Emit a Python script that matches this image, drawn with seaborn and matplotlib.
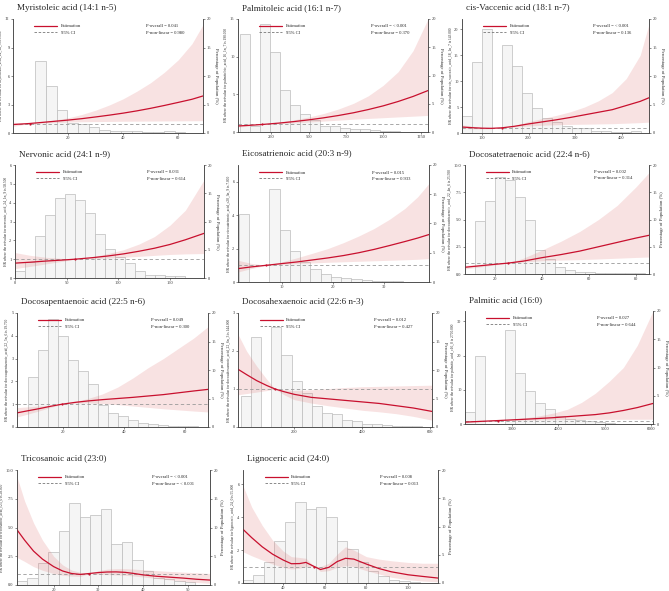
import numpy as np
import pandas as pd
import matplotlib
matplotlib.use("Agg")
import matplotlib.pyplot as plt
from matplotlib.lines import Line2D
from matplotlib.ticker import FormatStrFormatter
import seaborn as sns

# ---- Style
sns.set_style("ticks")
plt.rcParams["font.family"] = ["Liberation Serif", "DejaVu Serif"]
RED = "#c8102e"
BAND = "#e27b7b"
BAR_FACE = "#f5f5f5"
BAR_EDGE = "#bcbcbc"
REF_GREY = "#9a9a9a"
W, H = 669, 591

# ---- Data
# Myristoleic acid (14:1 n-5)
myr_bin_start, myr_bin_width = 8.0, 3.9
myr_pct = [12.7, 8.3, 4.0, 1.8, 1.6, 1.0, 0.5, 0.4, 0.4, 0.3, 0.2, 0.1, 0.3, 0.1]
myr_x = [0, 6, 10, 15, 20, 25, 30, 35, 40, 45, 50, 55, 60, 65, 69]
myr_hr = [0.89, 1.0, 1.1, 1.23, 1.36, 1.51, 1.69, 1.88, 2.09, 2.33, 2.6, 2.9, 3.22, 3.55, 3.9]
myr_lo = [0.7, 1.0, 1.05, 1.1, 1.15, 1.18, 1.2, 1.22, 1.24, 1.25, 1.26, 1.27, 1.28, 1.29, 1.3]
myr_hi = [1.13, 1.0, 1.15, 1.35, 1.6, 1.95, 2.4, 2.95, 3.6, 4.4, 5.3, 6.4, 7.7, 9.4, 11.4]
myr_ref = 6.0

# Palmitoleic acid (16:1 n-7)
pol_bin_start, pol_bin_width = 38.0, 67.0
pol_pct = [17.3, 1.0, 19.1, 14.1, 7.5, 4.8, 3.2, 2.1, 1.1, 1.1, 0.7, 0.5, 0.5, 0.4, 0.2, 0.1]
pol_x = [27, 100, 190, 300, 400, 500, 600, 700, 800, 900, 1000, 1100, 1200, 1300]
pol_hr = [0.8, 0.88, 1.0, 1.18, 1.38, 1.61, 1.88, 2.19, 2.55, 2.98, 3.47, 4.05, 4.72, 5.5]
pol_lo = [0.65, 0.8, 1.0, 1.1, 1.2, 1.32, 1.45, 1.57, 1.7, 1.8, 1.9, 2.0, 2.1, 2.2]
pol_hi = [0.98, 0.97, 1.0, 1.27, 1.6, 1.98, 2.45, 3.05, 3.8, 4.8, 6.2, 8.0, 10.8, 15.0]
pol_ref = 190

# cis-Vaccenic acid (18:1 n-7)
vac_bin_start, vac_bin_width = 57.0, 21.4
vac_pct = [3.0, 12.4, 18.3, 0.0, 15.4, 11.7, 7.0, 4.4, 2.6, 1.9, 1.3, 0.8, 0.9, 0.3, 0.3, 0.2, 0.1, 0.3]
vac_x = [57, 80, 100, 120, 143, 170, 200, 230, 260, 290, 320, 350, 380, 410, 440, 459]
vac_hr = [1.15, 1.02, 0.93, 0.9, 1.0, 1.3, 1.75, 2.15, 2.55, 3.0, 3.5, 4.0, 4.5, 5.3, 6.1, 6.8]
vac_lo = [0.85, 0.82, 0.8, 0.82, 1.0, 1.15, 1.35, 1.5, 1.6, 1.65, 1.7, 1.75, 1.8, 1.9, 2.0, 2.1]
vac_hi = [1.55, 1.3, 1.1, 1.0, 1.0, 1.45, 2.2, 2.8, 3.4, 4.1, 5.0, 6.2, 7.8, 10.5, 15.0, 21.0]
vac_ref = 143

# Nervonic acid (24:1 n-9)
ner_bin_start, ner_bin_width = 0.0, 9.7
ner_pct = [1.2, 2.9, 7.5, 11.2, 14.1, 14.9, 13.8, 11.5, 7.8, 5.1, 3.7, 2.6, 1.3, 0.6, 0.5, 0.3, 0.35]
ner_x = [0, 15, 30, 45, 58.5, 75, 90, 105, 120, 135, 150, 165, 183]
ner_hr = [0.79, 0.84, 0.9, 0.95, 1.0, 1.08, 1.17, 1.28, 1.42, 1.58, 1.78, 2.03, 2.37]
ner_lo = [0.5, 0.62, 0.75, 0.88, 1.0, 1.03, 1.06, 1.1, 1.15, 1.2, 1.25, 1.28, 1.3]
ner_hi = [1.35, 1.2, 1.1, 1.04, 1.0, 1.12, 1.3, 1.5, 1.8, 2.2, 2.8, 3.6, 5.2]
ner_ref = 58.5

# Eicosatrienoic acid (20:3 n-9)
eic_bin_start, eic_bin_width = 1.6, 2.0
eic_pct = [11.6, 0.0, 0.0, 15.9, 8.9, 5.3, 3.4, 2.2, 1.3, 0.9, 0.6, 0.5, 0.4, 0.2, 0.1, 0.1]
eic_x = [1.5, 4, 7, 10, 13, 16, 19, 22, 25, 28, 31, 34, 36.5, 38.7]
eic_hr = [0.8, 0.9, 1.0, 1.1, 1.2, 1.32, 1.44, 1.58, 1.75, 1.95, 2.18, 2.42, 2.63, 2.84]
eic_lo = [0.6, 0.8, 1.0, 1.05, 1.1, 1.14, 1.18, 1.21, 1.24, 1.27, 1.3, 1.33, 1.36, 1.4]
eic_hi = [1.3, 1.12, 1.0, 1.2, 1.45, 1.72, 2.0, 2.35, 2.75, 3.2, 3.75, 4.4, 5.1, 5.9]
eic_ref = 7.0

# Docosatetraenoic acid (22:4 n-6)
dta_bin_start, dta_bin_width = 11.5, 4.26
dta_pct = [9.7, 13.4, 17.8, 17.3, 14.1, 10.0, 4.4, 2.8, 1.25, 0.75, 0.45, 0.3, 0.1, 0.1, 0.1, 0.1, 0.1]
dta_x = [7.2, 12, 18, 25.5, 32, 40, 48, 56, 64, 72, 80, 85.5]
dta_hr = [0.62, 0.72, 0.85, 1.0, 1.18, 1.5, 1.78, 2.1, 2.5, 2.9, 3.3, 3.55]
dta_lo = [0.47, 0.6, 0.78, 1.0, 1.1, 1.22, 1.28, 1.32, 1.38, 1.45, 1.52, 1.56]
dta_hi = [0.8, 0.86, 0.93, 1.0, 1.45, 2.2, 3.0, 3.9, 5.0, 6.3, 8.0, 9.3]
dta_ref = 25.5

# Docosapentaenoic acid (22:5 n-6)
dpa_bin_start, dpa_bin_width = 8.5, 3.29
dpa_pct = [8.7, 13.5, 19.0, 16.0, 11.7, 9.9, 7.5, 3.8, 2.5, 1.9, 1.3, 0.65, 0.47, 0.4, 0.25, 0.2, 0.2]
dpa_x = [4.9, 8, 12, 16, 19.7, 24, 28, 33, 38, 43, 48, 53, 58, 63, 67.7]
dpa_hr = [0.62, 0.7, 0.8, 0.91, 1.0, 1.08, 1.14, 1.2, 1.25, 1.3, 1.36, 1.42, 1.5, 1.58, 1.65]
dpa_lo = [0.44, 0.55, 0.7, 0.86, 1.0, 1.05, 1.06, 1.03, 0.98, 0.92, 0.86, 0.8, 0.75, 0.7, 0.66]
dpa_hi = [0.85, 0.88, 0.92, 0.96, 1.0, 1.12, 1.24, 1.45, 1.75, 2.15, 2.6, 3.0, 3.45, 3.9, 4.4]
dpa_ref = 19.7

# Docosahexaenoic acid (22:6 n-3)
dha_bin_start, dha_bin_width = 44.7, 29.5
dha_pct = [5.4, 15.8, 0.0, 17.5, 12.6, 8.0, 6.0, 3.6, 2.5, 2.2, 1.2, 1.0, 0.6, 0.6, 0.3, 0.2, 0.1, 0.1]
dha_x = [35, 60, 90, 120, 144, 170, 200, 250, 300, 350, 400, 450, 500, 550, 605]
dha_hr = [1.52, 1.38, 1.22, 1.09, 1.0, 0.93, 0.86, 0.78, 0.74, 0.7, 0.66, 0.62, 0.56, 0.5, 0.41]
dha_lo = [0.85, 0.88, 0.92, 0.96, 1.0, 0.85, 0.72, 0.63, 0.56, 0.5, 0.44, 0.4, 0.35, 0.28, 0.18]
dha_hi = [2.44, 2.0, 1.6, 1.25, 1.0, 0.98, 0.96, 0.98, 1.01, 1.04, 1.06, 1.07, 1.08, 1.09, 1.1]
dha_ref = 144

# Palmitic acid (16:0)
pal_bin_start, pal_bin_width = 2000.0, 214.0
pal_pct = [2.2, 12.0, 0.0, 0.0, 16.7, 9.1, 5.9, 3.7, 2.6, 1.5, 0.9, 0.7, 0.5, 0.4, 0.2]
pal_x = [2000, 2350, 2700, 3000, 3300, 3600, 3900, 4200, 4500, 4800, 5100, 5400, 5700, 6036]
pal_hr = [0.55, 0.78, 1.0, 1.2, 1.4, 1.62, 1.85, 2.15, 2.45, 2.75, 3.25, 3.95, 4.8, 6.0]
pal_lo = [0.35, 0.65, 1.0, 1.1, 1.17, 1.22, 1.26, 1.29, 1.32, 1.34, 1.36, 1.38, 1.39, 1.4]
pal_hi = [0.85, 0.93, 1.0, 1.35, 1.8, 2.4, 3.2, 4.3, 6.3, 9.0, 12.5, 16.5, 23.0, 33.0]
pal_ref = 2700

# Tricosanoic acid (23:0)
tri_bin_start, tri_bin_width = 11.8, 2.35
tri_pct = [0.7, 1.3, 3.9, 5.8, 9.4, 14.2, 11.8, 12.2, 13.2, 7.2, 7.4, 4.3, 2.5, 1.3, 1.0, 0.7, 0.5]
tri_x = [11.8, 13.5, 15.5, 17.5, 20, 22, 24, 26, 28, 30, 32, 34, 36, 38, 40, 43, 46, 49, 52, 55]
tri_hr = [4.8, 3.9, 2.95, 2.25, 1.6, 1.22, 1.0, 0.92, 1.0, 1.08, 1.13, 1.14, 1.1, 1.0, 0.88, 0.76, 0.68, 0.6, 0.5, 0.43]
tri_lo = [2.4, 2.05, 1.6, 1.28, 1.0, 0.85, 0.77, 0.75, 1.0, 0.92, 0.9, 0.88, 0.84, 0.78, 0.7, 0.57, 0.45, 0.33, 0.22, 0.15]
tri_hi = [9.4, 7.3, 5.4, 3.9, 2.5, 1.75, 1.3, 1.1, 1.0, 1.25, 1.38, 1.42, 1.42, 1.38, 1.33, 1.25, 1.18, 1.12, 1.06, 1.0]
tri_ref = 28

# Lignoceric acid (24:0)
lig_bin_start, lig_bin_width = 20.8, 5.0
lig_pct = [0.5, 1.35, 3.7, 7.35, 10.8, 14.3, 13.1, 13.5, 11.6, 7.35, 6.0, 3.8, 2.2, 1.2, 0.6, 0.3, 0.2]
lig_x = [20.8, 25, 30, 35, 40, 44, 48, 51, 55, 58, 62, 66, 70, 74, 80, 86, 92, 100, 107, 114.4]
lig_hr = [3.26, 2.75, 2.2, 1.75, 1.4, 1.17, 1.18, 1.25, 1.0, 0.82, 0.95, 1.3, 1.5, 1.45, 1.15, 0.88, 0.68, 0.5, 0.4, 0.3]
lig_lo = [1.9, 1.65, 1.4, 1.15, 0.95, 0.85, 0.9, 1.0, 1.0, 0.7, 0.75, 0.95, 1.05, 1.0, 0.75, 0.55, 0.35, 0.2, 0.12, 0.07]
lig_hi = [5.9, 4.6, 3.5, 2.6, 1.95, 1.6, 1.55, 1.5, 1.0, 1.0, 1.2, 1.75, 2.2, 2.0, 1.6, 1.45, 1.35, 1.25, 1.2, 1.2]
lig_ref = 55

PCT_TICKS = [0, 5, 10, 15, 20]


def draw_panel(box, title, ylab, p_all, p_nl, xlim, hr_lim, hr_ticks, xticks,
               bin_start, bin_width, pct, x, hr, lo, hi, ref, rot=270, fmt="%g"):
    l, t, r, b = box
    ax = fig.add_axes([l / W, 1 - b / H, (r - l) / W, (b - t) / H])
    ax2 = ax.twinx()
    # bars live on ax (axis on the right), the HR curve on ax2 (axis on the left)
    ax.yaxis.tick_right()
    ax.yaxis.set_label_position("right")
    ax2.yaxis.tick_left()
    ax2.yaxis.set_label_position("left")

    # histogram of the population
    edges = bin_start + bin_width * np.arange(len(pct) + 1)
    hist_df = pd.DataFrame({"value": edges[:-1] + bin_width / 2, "pct": pct})
    sns.histplot(data=hist_df, x="value", weights="pct", bins=list(edges), ax=ax,
                 color=BAR_FACE, edgecolor=BAR_EDGE, linewidth=0.5, alpha=1)
    ax.set_ylim(0, 20)
    ax.set_yticks(PCT_TICKS)
    ax.set_ylabel("Percentage of Population (%)", fontsize=3.4, rotation=rot,
                  va="bottom" if rot == 270 else "top", labelpad=2.5)
    ax.set_xlabel("")

    # spline estimate
    ax2.fill_between(x, lo, hi, color=BAND, alpha=0.22, lw=0)
    ax2.axhline(1, color=REF_GREY, ls=(0, (4, 3)), lw=0.6)
    curve_df = pd.DataFrame({"x": x, "hr": hr})
    sns.lineplot(data=curve_df, x="x", y="hr", ax=ax2, color=RED, lw=0.9,
                 sort=False, estimator=None, legend=False)
    ax2.scatter([ref], [1], s=2.5, color=RED, zorder=5, lw=0)
    ax2.set_ylim(*hr_lim)
    ax2.set_yticks(hr_ticks)
    ax2.yaxis.set_major_formatter(FormatStrFormatter(fmt))
    ax2.set_ylabel(ylab, fontsize=2.6, labelpad=1.5)
    ax2.set_xlabel("")

    ax.set_xlim(*xlim)
    ax.set_xticks(xticks)

    for a in (ax, ax2):
        a.spines["top"].set_visible(False)
        for s in ("left", "right", "bottom"):
            a.spines[s].set_linewidth(0.5)
            a.spines[s].set_color("#444444")
        a.tick_params(labelsize=3.2, length=1.5, width=0.4, pad=1,
                      colors="#333333")

    handles = [Line2D([], [], color=RED, lw=0.9),
               Line2D([], [], color="#777777", lw=0.6, ls=(0, (3, 2)))]
    ax2.legend(handles, ["Estimation", "95% CI"], loc="upper left",
               bbox_to_anchor=(0.09, 0.99), frameon=False, fontsize=3.3,
               handlelength=5, labelspacing=0.5)
    ax2.text(0.70, 0.935, f"P-overall = {p_all}", transform=ax2.transAxes,
             fontsize=3.3, va="center")
    ax2.text(0.70, 0.88, f"P-non-linear = {p_nl}", transform=ax2.transAxes,
             fontsize=3.3, va="center")
    ax2.text(0.02, 1.10, title, transform=ax2.transAxes, fontsize=6.6,
             ha="left", va="center")


fig = plt.figure(figsize=(W / 100, H / 100), dpi=100)

draw_panel((13, 19, 203, 133), "Myristoleic acid (14:1 n-5)",
           "HR where the refvalue for myristoleic_acid_14_1n_5 is 6.000",
           "0.041", "0.980", (0, 69), (0, 12), [0, 3, 6, 9, 12], [20, 40, 60],
           myr_bin_start, myr_bin_width, myr_pct, myr_x, myr_hr, myr_lo, myr_hi, myr_ref)
draw_panel((238, 19, 428, 132), "Palmitoleic acid (16:1 n-7)",
           "HR where the refvalue for palmitoleic_acid_16_1n_7 is 190.000",
           "< 0.001", "0.370", (27, 1300), (0, 15), [0, 5, 10, 15], [250, 500, 750, 1000, 1250],
           pol_bin_start, pol_bin_width, pol_pct, pol_x, pol_hr, pol_lo, pol_hi, pol_ref)
draw_panel((462, 19, 649, 133), "cis-Vaccenic acid (18:1 n-7)",
           "HR where the refvalue for cis_vaccenic_acid_18_1n_7 is 143.000",
           "< 0.001", "0.136", (57, 459), (0, 22), [0, 5, 10, 15, 20], [100, 200, 300, 400],
           vac_bin_start, vac_bin_width, vac_pct, vac_x, vac_hr, vac_lo, vac_hi, vac_ref)
draw_panel((15, 165, 204, 278), "Nervonic acid (24:1 n-9)",
           "HR where the refvalue for nervonic_acid_24_1n_9 is 58.500",
           "0.031", "0.614", (0, 183), (0, 6), [0, 1, 2, 3, 4, 5, 6], [0, 50, 100, 150],
           ner_bin_start, ner_bin_width, ner_pct, ner_x, ner_hr, ner_lo, ner_hi, ner_ref)
draw_panel((238, 165, 429, 282), "Eicosatrienoic acid (20:3 n-9)",
           "HR where the refvalue for eicosatrienoic_acid_c20_3n_9 is 7.000",
           "0.015", "0.933", (1.5, 38.7), (0, 7), [0, 2, 4, 6], [10, 20, 30],
           eic_bin_start, eic_bin_width, eic_pct, eic_x, eic_hr, eic_lo, eic_hi, eic_ref)
draw_panel((465, 165, 649, 274), "Docosatetraenoic acid (22:4 n-6)",
           "HR where the refvalue for docosatetraenoic_acid_22_4n_6 is 25.500",
           "0.002", "0.314", (7.2, 85.5), (0, 10), [0, 2.5, 5, 7.5, 10], [20, 40, 60, 80],
           dta_bin_start, dta_bin_width, dta_pct, dta_x, dta_hr, dta_lo, dta_hi, dta_ref,
           rot=90, fmt="%.1f")
draw_panel((17, 313, 208, 427), "Docosapentaenoic acid (22:5 n-6)",
           "HR where the refvalue for docosapentaenoic_acid_22_5n_6 is 19.700",
           "0.049", "0.300", (4.9, 67.7), (0, 5), [0, 1, 2, 3, 4, 5], [20, 40, 60],
           dpa_bin_start, dpa_bin_width, dpa_pct, dpa_x, dpa_hr, dpa_lo, dpa_hi, dpa_ref)
draw_panel((238, 313, 432, 427), "Docosahexaenoic acid (22:6 n-3)",
           "HR where the refvalue for docosahexaenoic_acid_22_6n_3 is 144.000",
           "0.012", "0.427", (35, 605), (0, 3), [0, 1, 2, 3], [200, 400, 600],
           dha_bin_start, dha_bin_width, dha_pct, dha_x, dha_hr, dha_lo, dha_hi, dha_ref)
draw_panel((465, 311, 653, 424), "Palmitic acid (16:0)",
           "HR where the refvalue for palmitic_acid_c16_0 is 2700.000",
           "0.027", "0.644", (2000, 6036), (0, 33), [0, 10, 20, 30], [3000, 4000, 5000, 6000],
           pal_bin_start, pal_bin_width, pal_pct, pal_x, pal_hr, pal_lo, pal_hi, pal_ref)
draw_panel((17, 470, 210, 585), "Tricosanoic acid (23:0)",
           "HR where the refvalue for tricosanoic_acid_c23_0 is 28.000",
           "< 0.001", "< 0.001", (11.8, 55), (0, 10), [0, 2.5, 5, 7.5, 10], [20, 30, 40, 50],
           tri_bin_start, tri_bin_width, tri_pct, tri_x, tri_hr, tri_lo, tri_hi, tri_ref,
           rot=90, fmt="%.1f")
draw_panel((243, 470, 438, 583), "Lignoceric acid (24:0)",
           "HR where the refvalue for lignoceric_acid_24_0 is 55.000",
           "0.008", "0.013", (20.8, 114.4), (0, 6.86), [0, 2, 4, 6], [40, 60, 80, 100],
           lig_bin_start, lig_bin_width, lig_pct, lig_x, lig_hr, lig_lo, lig_hi, lig_ref,
           rot=90)

fig.savefig("out.png", dpi=100, facecolor="white")
plt.close(fig)
